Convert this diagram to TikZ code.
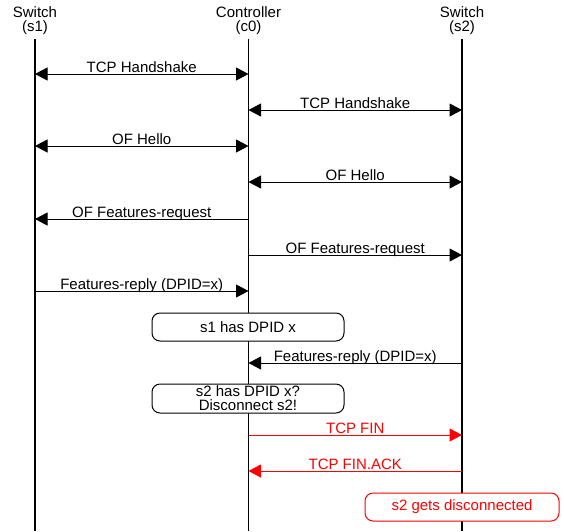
\documentclass[tikz,border=0pt]{standalone}
\usepackage{fontspec}
\setmainfont{Liberation Sans}
\usetikzlibrary{arrows.meta}
\begin{document}
\begin{tikzpicture}[x=1pt,y=-1pt,
  every node/.style={font=\fontsize{15}{14}\selectfont},
  head/.style={align=center,anchor=base,inner sep=0pt},
  life/.style={line width=1.2pt,black},
  msg/.style={line width=1pt,-{Triangle[length=12.5pt,width=13pt]}},
  dmsg/.style={line width=1pt,{Triangle[length=12.5pt,width=13pt]}-{Triangle[length=12.5pt,width=13pt]}},
  lbl/.style={anchor=base,inner sep=0pt,yshift=1.5pt},
  note/.style={draw,line width=1pt,rounded corners=8pt,fill=white,inner sep=0pt,align=center},
  rmsg/.style={msg,draw=red,fill=red},
]
\useasboundingbox (0,0) rectangle (564,531);
% headers
\node[head] (s1) at (35,31) {Switch\\(s1)};
\node[head] (c0) at (248.5,31) {Controller\\(c0)};
\node[head] (s2) at (462,31) {Switch\\(s2)};
\coordinate (s1t) at (35,39);
\coordinate (c0t) at (248.5,39);
\coordinate (s2t) at (462,39);
\coordinate (s1b) at (35,531);
\coordinate (c0b) at (248.5,531);
\coordinate (s2b) at (462,531);
\draw[life] (s1t) -- (s1b);
\draw[life] (c0t) -- (c0b);
\draw[life] (s2t) -- (s2b);
% message rows
\coordinate (r1) at (0,74);
\coordinate (r2) at (0,110);
\coordinate (r3) at (0,146);
\coordinate (r4) at (0,182);
\coordinate (r5) at (0,219);
\coordinate (r6) at (0,255);
\coordinate (r7) at (0,291);
\coordinate (r8) at (0,363);
\coordinate (r9) at (0,435);
\coordinate (r10) at (0,471);
\draw[dmsg] (s1t |- r1) -- node[lbl] {TCP Handshake} (c0t |- r1);
\draw[dmsg] (c0t |- r2) -- node[lbl] {TCP Handshake} (s2t |- r2);
\draw[dmsg] (s1t |- r3) -- node[lbl] {OF Hello} (c0t |- r3);
\draw[dmsg] (c0t |- r4) -- node[lbl] {OF Hello} (s2t |- r4);
\draw[msg] (c0t |- r5) -- node[lbl] {OF Features-request} (s1t |- r5);
\draw[msg] (c0t |- r6) -- node[lbl] {OF Features-request} (s2t |- r6);
\draw[msg] (s1t |- r7) -- node[lbl] {Features-reply (DPID=x)} (c0t |- r7);
\draw[msg] (s2t |- r8) -- node[lbl] {Features-reply (DPID=x)} (c0t |- r8);
\draw[rmsg] (c0t |- r9) -- node[lbl,text=red] {TCP FIN} (s2t |- r9);
\draw[rmsg] (s2t |- r10) -- node[lbl,text=red] {TCP FIN.ACK} (c0t |- r10);
% notes
\node[note,minimum width=192pt,minimum height=28pt] (n1) at (248,327) {s1 has DPID x};
\node[note,minimum width=192pt,minimum height=29pt] (n2) at (248,398.5) {s2 has DPID x?\\Disconnect s2!};
\node[note,draw=red,text=red,minimum width=194pt,minimum height=28pt] (n3) at (462,507) {s2 gets disconnected};
\end{tikzpicture}
\end{document}
